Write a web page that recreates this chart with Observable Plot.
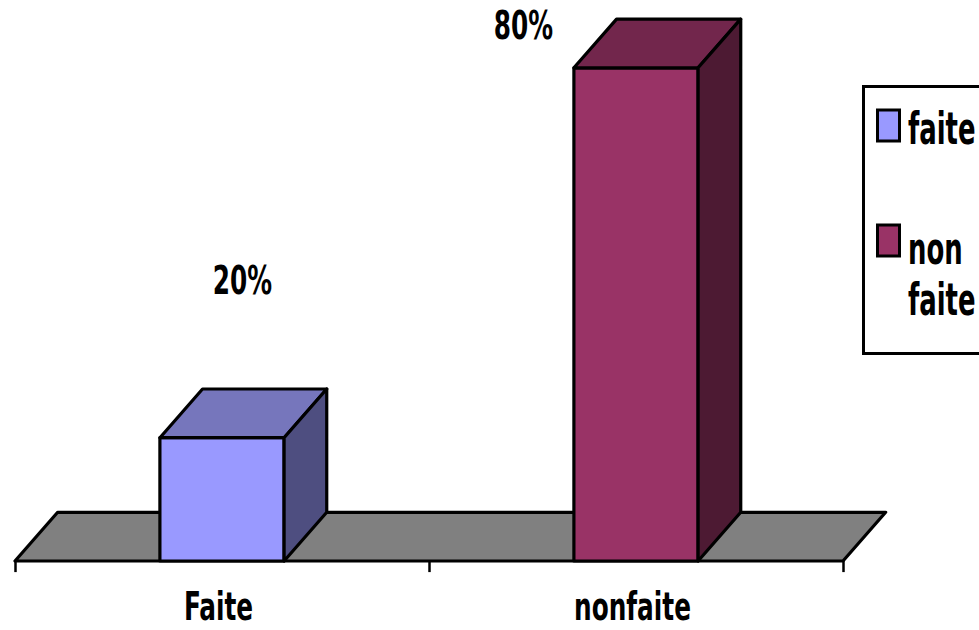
<!DOCTYPE html>
<html><head><meta charset="utf-8">
<script src="https://cdn.jsdelivr.net/npm/d3@7"></script>
<script src="https://cdn.jsdelivr.net/npm/@observablehq/plot@0.6"></script>
<style>
html,body{margin:0;padding:0;background:#fff;overflow:hidden;}
#wrap{position:relative;width:979px;height:630px;overflow:hidden;}
#wrap svg{position:absolute;left:0;top:0;}
</style></head><body><div id="wrap"></div>
<script>
// ---- data ----
const categories = ["Faite", "nonfaite"];
const values = [20, 80];
const valueLabels = ["20%", "80%"];
const legendLabels = [["faite"], ["non", "faite"]];

// ---- styles ----
const FONT = "'Liberation Sans Narrow', 'Arial Narrow', 'DejaVu Sans Condensed', sans-serif";
const frontColors = ["#9999FF", "#993366"];
const topColors = ["#7676BC", "#72264C"];
const sideColors = ["#4E4E80", "#4D1A33"];
const floorColor = "#808080";
const DX = 0.103, DY = 7.9, HALF = 0.15;      // 3-D depth (data units) and half bar width
const labelOffsets = [[20, -157], [-113, -42]]; // value label offsets (px)
const SX = 0.81, SY = 1.16;                    // text is tall and narrow in the reference

const bars = categories.map((c, i) => ({cat: c, label: valueLabels[i], v: values[i], zero: 0,
  c: i + 0.5, l: i + 0.5 - HALF, r: i + 0.5 + HALF}));
const n = categories.length;
const floor = [{y: 0, xa: 0, xb: n}, {y: DY, xa: DX, xb: n + DX}];
const edge = {stroke: "black", strokeWidth: 3.2, strokeLinejoin: "round"};

const marks = [Plot.areaX(floor, {y: "y", x1: "xa", x2: "xb", fill: floorColor, ...edge})];
bars.forEach((b, i) => {
  marks.push(Plot.rect([b], {x1: "l", x2: "r", y1: "zero", y2: "v", fill: frontColors[i], ...edge}));
  marks.push(Plot.areaX([{y: b.v, xa: b.l, xb: b.r}, {y: b.v + DY, xa: b.l + DX, xb: b.r + DX}],
    {y: "y", x1: "xa", x2: "xb", fill: topColors[i], ...edge}));
  marks.push(Plot.areaY([{x: b.r, ya: 0, yb: b.v}, {x: b.r + DX, ya: DY, yb: b.v + DY}],
    {x: "x", y1: "ya", y2: "yb", fill: sideColors[i], ...edge}));
  marks.push(Plot.text([b], {x: "c", y: "v", text: "label", dx: labelOffsets[i][0], dy: labelOffsets[i][1],
    fontSize: 34, fontWeight: "bold", fontFamily: FONT, fill: "black"}));
});
marks.push(Plot.ruleX(d3.range(n + 1), {x: d => d, y1: 0, y2: -1.8, stroke: "black", strokeWidth: 2.5}));
marks.push(Plot.text(bars, {x: "c", y: "zero", text: "cat", dy: 46, dx: -4,
  fontSize: 34, fontWeight: "bold", fontFamily: FONT, fill: "black"}));

const svg = Plot.plot({
  width: 979, height: 630,
  marginLeft: 15, marginRight: 136, marginTop: 0, marginBottom: 69,
  x: {type: "linear", domain: [0, n], axis: null},
  y: {domain: [0, 91], axis: null},
  style: {background: "white", fontFamily: FONT, overflow: "visible"},
  marks
});

svg.querySelectorAll("text").forEach(t => {
  let tr = t.getAttribute("transform");
  if (!tr) {
    const x = t.getAttribute("x") || 0, y = t.getAttribute("y") || 0;
    t.removeAttribute("x"); t.removeAttribute("y");
    tr = `translate(${x},${y})`;
  }
  t.setAttribute("transform", tr + ` scale(${SX},${SY})`);
});
document.getElementById("wrap").appendChild(svg);

// ---- legend ----
const lg = d3.select("#wrap").append("svg").attr("width", 979).attr("height", 630)
  .style("pointer-events", "none");
lg.append("rect").attr("x", 863.5).attr("y", 86.5).attr("width", 140).attr("height", 267)
  .attr("fill", "white").attr("stroke", "black").attr("stroke-width", 3);
const rows = [{sw: 110, base: [144]}, {sw: 225, base: [264, 315]}];
rows.forEach((r, i) => {
  lg.append("rect").attr("x", 877.5).attr("y", r.sw).attr("width", 22).attr("height", 31)
    .attr("fill", frontColors[i]).attr("stroke", "black").attr("stroke-width", 3);
  legendLabels[i].forEach((s, k) => {
    lg.append("text").attr("transform", `translate(908,${r.base[k]}) scale(0.8,1.22)`)
      .attr("font-family", FONT).attr("font-weight", "bold").attr("font-size", 36)
      .attr("fill", "black").text(s);
  });
});
</script></body></html>
